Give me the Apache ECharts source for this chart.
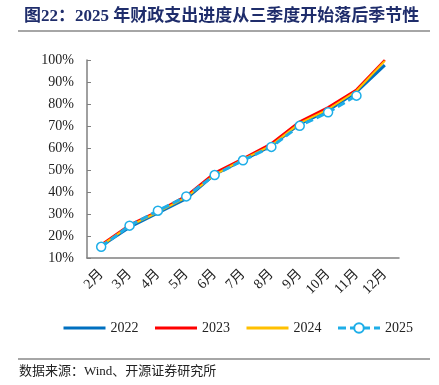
<!DOCTYPE html>
<html><head><meta charset="utf-8">
<script src="https://cdn.jsdelivr.net/npm/echarts@6/dist/echarts.min.js"></script>
<style>html,body{margin:0;padding:0;background:#fff}#c{width:439px;height:385px}</style>
</head><body><div id="c"></div>
<script>
const categories = ['2月','3月','4月','5月','6月','7月','8月','9月','10月','11月','12月'];
const s2022 = [15.5, 24.0, 30.5, 37.0, 48.0, 54.5, 61.0, 71.0, 77.0, 85.5, 97.7];
const s2023 = [16.0, 25.0, 31.2, 38.2, 48.7, 55.2, 62.0, 72.0, 78.5, 86.5, 100.0];
const s2024 = [15.6, 24.6, 30.8, 37.6, 47.8, 54.8, 61.2, 71.3, 77.6, 85.9, 99.6];
const s2025 = [15.1, 24.7, 31.5, 38.0, 47.7, 54.4, 60.5, 70.1, 76.2, 83.8];
const yTicks = {min: 10, max: 100, interval: 10};

const serif = '"Liberation Serif","Times New Roman","Noto Sans CJK SC",serif';
const hideSym = {color: 'transparent', borderWidth: 0, borderColor: 'transparent'};
const chart = echarts.init(document.getElementById('c'));
chart.setOption({
  animation: false,
  textStyle: {fontFamily: serif},
  title: {
    text: '图22：2025 年财政支出进度从三季度开始落后季节性',
    left: 19, top: 3,
    textStyle: {fontFamily: serif, fontSize: 17, fontWeight: 'bold', color: '#1F2D6B'}
  },
  graphic: [
    {type: 'line', shape: {x1: 18, y1: 31, x2: 430, y2: 31}, style: {stroke: '#888', lineWidth: 1.5}},
    {type: 'line', shape: {x1: 18, y1: 359, x2: 430, y2: 359}, style: {stroke: '#888', lineWidth: 1.5}},
    {type: 'text', left: 19, top: 365, style: {text: '数据来源：Wind、开源证券研究所', font: '13px ' + serif, fill: '#222'}}
  ],
  legend: {
    top: 316, left: 57,
    itemWidth: 42, itemHeight: 12, itemGap: 15,
    textStyle: {fontFamily: serif, fontSize: 14, color: '#222'},
    data: [
      {name: '2022', itemStyle: hideSym, lineStyle: {width: 3}},
      {name: '2023', itemStyle: hideSym, lineStyle: {width: 3}},
      {name: '2024', itemStyle: hideSym, lineStyle: {width: 3}},
      {name: '2025', lineStyle: {width: 3}}
    ]
  },
  grid: {left: 87, right: 40, top: 60, bottom: 127},
  xAxis: {
    type: 'category', data: categories, boundaryGap: true,
    axisLine: {lineStyle: {color: '#808080', width: 1.5}},
    axisTick: {inside: true, length: 4, lineStyle: {color: '#808080'}},
    axisLabel: {rotate: 45, fontSize: 14, color: '#222', fontFamily: serif, margin: 14}
  },
  yAxis: {
    type: 'value', min: yTicks.min, max: yTicks.max, interval: yTicks.interval,
    axisLine: {show: true, lineStyle: {color: '#808080', width: 1.5}},
    axisTick: {show: true, inside: true, length: 4, lineStyle: {color: '#808080'}},
    splitLine: {show: false},
    axisLabel: {formatter: '{value}%', fontSize: 14, color: '#222', fontFamily: serif, margin: 13}
  },
  series: [
    {name: '2022', type: 'line', data: s2022, symbol: 'none', lineStyle: {color: '#0070C0', width: 3}, itemStyle: {color: '#0070C0'}},
    {name: '2023', type: 'line', data: s2023, symbol: 'none', lineStyle: {color: '#FF0000', width: 2.5}, itemStyle: {color: '#FF0000'}},
    {name: '2024', type: 'line', data: s2024, symbol: 'none', lineStyle: {color: '#FFC000', width: 2}, itemStyle: {color: '#FFC000'}},
    {name: '2025', type: 'line', data: s2025, symbol: 'circle', symbolSize: 9,
     lineStyle: {color: '#1EAEE8', width: 3, type: [8, 4]},
     itemStyle: {color: '#fff', borderColor: '#1EAEE8', borderWidth: 1.5}}
  ]
});
</script></body></html>
